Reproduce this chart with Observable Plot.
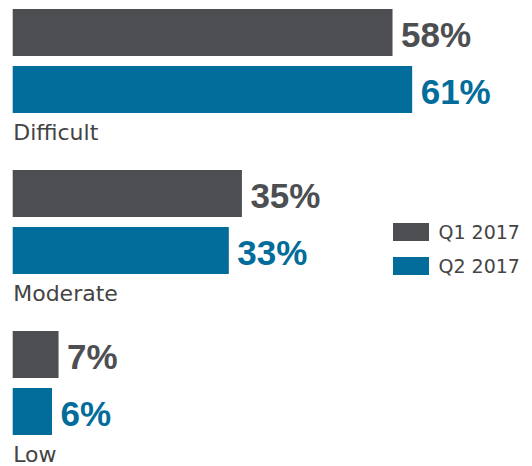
<!DOCTYPE html>
<html>
<head>
<meta charset="utf-8">
<script src="https://cdn.jsdelivr.net/npm/d3@7"></script>
<script src="https://cdn.jsdelivr.net/npm/@observablehq/plot@0.6"></script>
<style>
  html, body { margin: 0; padding: 0; background: #fff; }
  #wrap { position: relative; width: 532px; height: 466px; overflow: hidden; }
  #chart svg { display: block; }
  #legend { position: absolute; left: 393px; top: 215px; }
  #legend .lg-swatch { height: 34px !important; padding: 0 !important; margin: 0 !important; display: flex !important; align-items: center !important; }
  #legend .lg-swatches { margin: 0 !important; min-height: 0 !important; }
</style>
</head>
<body>
<div id="wrap">
  <div id="chart"></div>
  <div id="legend"></div>
</div>
<script>
const categories = ["Difficult", "Moderate", "Low"];
const quarters = ["Q1 2017", "Q2 2017"];
const q1Values = [58, 35, 7];
const q2Values = [61, 33, 6];
const colors = ["#4d4e52", "#026d9a"];

const data = categories.flatMap((c, i) => [
  {category: c, quarter: quarters[0], value: q1Values[i]},
  {category: c, quarter: quarters[1], value: q2Values[i]}
]);

const chart = Plot.plot({
  width: 532,
  height: 466,
  marginTop: 9,
  marginBottom: 30,
  marginLeft: 12.7,
  marginRight: 0,
  style: {background: "#fff"},
  x: {domain: [0, 79.3], axis: null},
  fy: {domain: categories, paddingInner: 0.35, paddingOuter: 0, axis: null},
  y: {domain: quarters, paddingInner: 0.167, paddingOuter: 0, axis: null},
  color: {domain: quarters, range: colors},
  marks: [
    Plot.barX(data, {x: "value", y: "quarter", fy: "category", fill: "quarter", insetTop: 0, insetBottom: 0}),
    Plot.text(data, {
      x: "value", y: "quarter", fy: "category",
      text: d => d.value + "%",
      fill: "quarter",
      textAnchor: "start", lineAnchor: "bottom",
      dx: 8, dy: 13.7,
      fontSize: 35, fontWeight: "bold", fontFamily: "Liberation Sans, Arial, sans-serif"
    }),
    Plot.text(categories, {
      fy: d => d, text: d => d,
      frameAnchor: "bottom-left", textAnchor: "start", lineAnchor: "bottom",
      dy: 25,
      fontSize: 22, fill: "#444", fontFamily: "DejaVu Sans, sans-serif"
    })
  ]
});
document.getElementById("chart").appendChild(chart);

const legend = Plot.legend({
  color: {domain: quarters, range: colors},
  legend: "swatches",
  columns: 1,
  swatchWidth: 36,
  swatchHeight: 18,
  className: "lg",
  style: {fontSize: "19px", fontFamily: "DejaVu Sans, sans-serif", color: "#444"}
});
document.getElementById("legend").appendChild(legend);
</script>
</body>
</html>
